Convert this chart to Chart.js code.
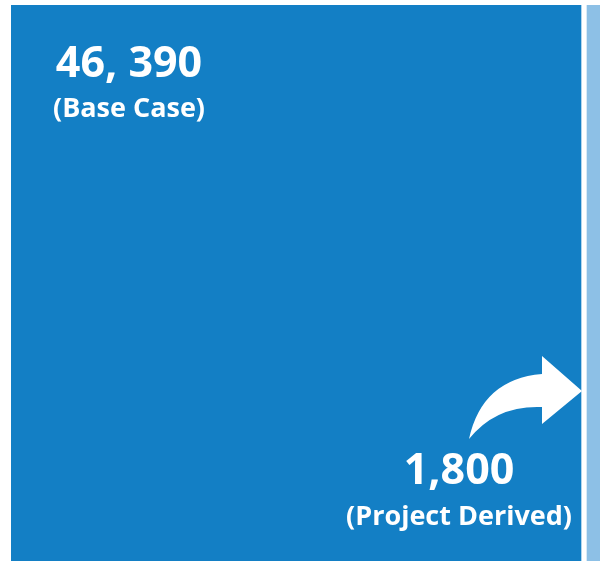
<!DOCTYPE html>
<html lang="en">
<head>
  <meta charset="UTF-8">
  <title>Base Case vs Project Derived</title>
  <script src="https://cdn.jsdelivr.net/npm/chart.js"></script>
  <style>
    html, body { margin: 0; padding: 0; background: #ffffff; }
    #wrap { width: 600px; height: 561px; }
  </style>
</head>
<body>
  <div id="wrap">
    <canvas id="treeChart" width="600" height="561"></canvas>
  </div>
  <script>
    // data
    const categories = ['Total'];
    const seriesNames = ['Base Case', 'Project Derived'];
    const seriesValues = [46390, 1800];
    const valueLabels = ['46, 390', '1,800'];
    const seriesColors = ['#137fc5', '#8dc0e6'];

    const labelFont = '"Open Sans", "DejaVu Sans", sans-serif';

    // text labels + arrow drawn on top of the bars
    const labelPlugin = {
      id: 'blockLabels',
      afterDatasetsDraw(chart) {
        const ctx = chart.ctx;
        const big = chart.getDatasetMeta(0).data[0];
        if (!big) return;
        const left = big.base;
        const right = big.x;
        const top = big.y - big.height / 2;

        ctx.save();
        ctx.fillStyle = '#ffffff';
        ctx.textAlign = 'center';
        ctx.textBaseline = 'alphabetic';

        // base case, top left
        const cx1 = left + 118;
        ctx.font = '700 43px ' + labelFont;
        ctx.fillText(valueLabels[0], cx1, top + 72);
        ctx.font = '700 27px ' + labelFont;
        ctx.fillText('(' + seriesNames[0] + ')', cx1, top + 112);

        // project derived, bottom right
        const cx2 = right - 125;
        ctx.font = '700 43px ' + labelFont;
        ctx.fillText(valueLabels[1], cx2, top + 479);
        ctx.font = '700 27px ' + labelFont;
        ctx.fillText('(' + seriesNames[1] + ')', cx2, top + 520);

        // curved arrow pointing at the thin block
        const ax = right - 2, ay = top + 386;
        ctx.beginPath();
        ctx.moveTo(ax - 113, ay + 48);
        ctx.quadraticCurveTo(ax - 100, ay - 12, ax - 40, ay - 17);
        ctx.lineTo(ax - 40, ay - 35);
        ctx.lineTo(ax, ay);
        ctx.lineTo(ax - 40, ay + 33);
        ctx.lineTo(ax - 40, ay + 16);
        ctx.quadraticCurveTo(ax - 86, ay + 14, ax - 113, ay + 48);
        ctx.closePath();
        ctx.fill();
        ctx.restore();
      }
    };

    const ctx = document.getElementById('treeChart').getContext('2d');
    const treeChart = new Chart(ctx, {
      type: 'bar',
      data: {
        labels: categories,
        datasets: [
          {
            label: seriesNames[0],
            data: [seriesValues[0]],
            backgroundColor: seriesColors[0],
            borderColor: '#ffffff',
            borderWidth: { left: 0, right: 3, top: 0, bottom: 0 },
            borderSkipped: false,
            barPercentage: 1,
            categoryPercentage: 1
          },
          {
            label: seriesNames[1],
            data: [seriesValues[1]],
            backgroundColor: seriesColors[1],
            borderColor: '#ffffff',
            borderWidth: { left: 3, right: 0, top: 0, bottom: 0 },
            borderSkipped: false,
            barPercentage: 1,
            categoryPercentage: 1
          }
        ]
      },
      options: {
        indexAxis: 'y',
        responsive: false,
        animation: false,
        layout: { padding: { left: 11, right: 0, top: 5, bottom: 0 } },
        plugins: {
          legend: { display: false },
          tooltip: { enabled: false }
        },
        scales: {
          x: { stacked: true, display: false, min: 0, max: 47685 },
          y: { stacked: true, display: false }
        }
      },
      plugins: [labelPlugin]
    });
  </script>
</body>
</html>
